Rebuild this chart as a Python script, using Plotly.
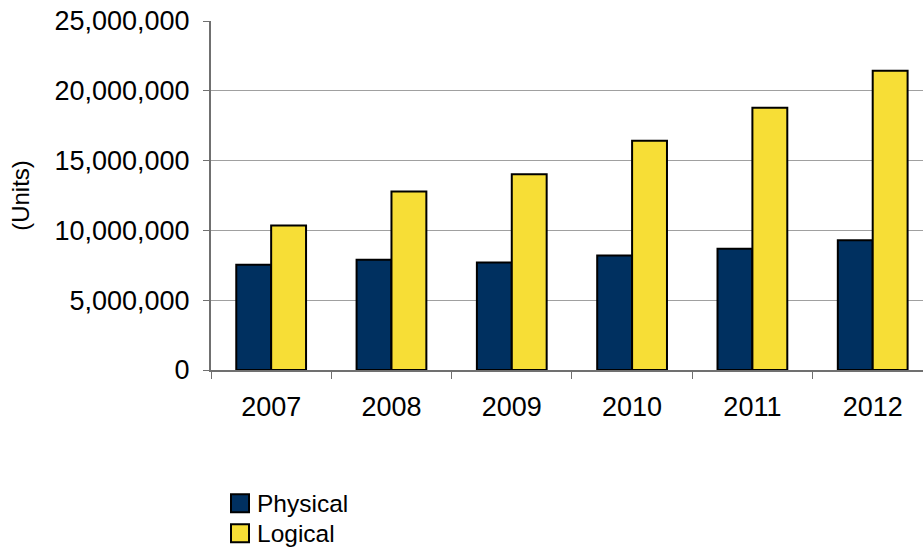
import plotly.graph_objects as go

years = ["2007", "2008", "2009", "2010", "2011", "2012"]
physical = [7540000, 7890000, 7700000, 8200000, 8680000, 9300000]
logical = [10350000, 12780000, 14030000, 16420000, 18780000, 21430000]
y_ticks = [0, 5000000, 10000000, 15000000, 20000000, 25000000]
series_names = ["Physical", "Logical"]

NAVY = "#003060"
YELLOW = "#F7DE36"
FONT = "Liberation Sans, Arial, sans-serif"
colors = [NAVY, YELLOW]

fig = go.Figure()
for name, vals, col in zip(series_names, [physical, logical], colors):
    fig.add_trace(go.Bar(x=years, y=vals, name=name, showlegend=False,
                         marker=dict(color=col, line=dict(color="#000000", width=2))))

# custom legend (larger swatches, like the reference)
L, PW = 211, 712
BOT, PH = 370, 349
def px_x(p):
    return (p - L) / PW
def px_y(p):
    return (BOT - p) / PH

row_centers = [503.3, 533.3]
for name, col, cy in zip(series_names, colors, row_centers):
    fig.add_shape(type="rect", xref="paper", yref="paper",
                  x0=px_x(231), x1=px_x(249), y0=px_y(cy + 9), y1=px_y(cy - 9),
                  fillcolor=col, line=dict(color="#000000", width=2))
    fig.add_annotation(xref="paper", yref="paper", x=px_x(255), y=px_y(cy),
                       xanchor="left", yanchor="middle", text=name, showarrow=False,
                       font=dict(size=24.5, family=FONT, color="#000000"))

fig.update_layout(
    width=923, height=548,
    margin=dict(l=L, r=0, t=21, b=548 - BOT),
    paper_bgcolor="white", plot_bgcolor="white",
    barmode="group", bargap=0.42, bargroupgap=0,
    font=dict(family=FONT, color="#000000", size=27),
    showlegend=False,
)
fig.update_xaxes(
    type="category", range=[-0.5, 5.418], automargin=False,
    showline=True, linecolor="#707070", linewidth=2,
    ticks="outside", tickson="boundaries", ticklen=7, tickcolor="#707070", tickwidth=1,
    tickfont=dict(size=27, family=FONT), ticklabelstandoff=12, showgrid=False,
)
fig.update_yaxes(
    range=[0, 25000000], tickvals=y_ticks, tickformat=",d", automargin=False,
    showline=True, linecolor="#707070", linewidth=2,
    ticks="outside", ticklen=6, tickcolor="#707070", tickwidth=1,
    tickfont=dict(size=27, family=FONT), ticklabelstandoff=8,
    showgrid=True, gridcolor="#A0A0A0", gridwidth=1, zeroline=False,
    title=dict(text="(Units)", font=dict(size=24, family=FONT), standoff=18),
)
fig.write_html("out.html")
